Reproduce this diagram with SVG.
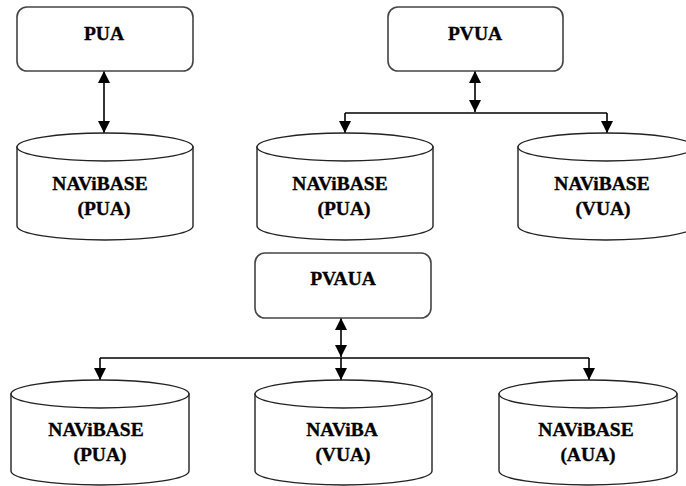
<svg xmlns="http://www.w3.org/2000/svg" width="686" height="486" viewBox="0 0 686 486">
  <defs>
    <marker id="head" viewBox="0 0 12 12" refX="12" refY="6" markerWidth="12" markerHeight="12" markerUnits="userSpaceOnUse" orient="auto-start-reverse">
      <path d="M0,0 L12,6 L0,12 Z" fill="#000"/>
    </marker>
    <style>
      .box { fill: #fff; stroke: #444; stroke-width: 1.6; }
      .cyl { fill: #fff; stroke: #222; stroke-width: 1.4; }
      .lbl { font-family: "Liberation Serif", "Times New Roman", serif; font-weight: bold; font-size: 19.5px; fill: #000; stroke: #000; stroke-width: 0.35; text-anchor: middle; }
      .wire { fill: none; stroke: #000; stroke-width: 1.6; }
    </style>
  </defs>
  <rect width="686" height="486" fill="#fff"/>

  <!-- connectors -->
  <g id="connectors">
    <line class="wire" x1="104" y1="71" x2="104" y2="133" marker-start="url(#head)" marker-end="url(#head)"/>
    <line class="wire" x1="475" y1="71" x2="475" y2="112" marker-start="url(#head)" marker-end="url(#head)"/>
    <path class="wire" d="M345,113 L607,113"/>
    <line class="wire" x1="345" y1="113" x2="345" y2="133" marker-end="url(#head)"/>
    <line class="wire" x1="607" y1="113" x2="607" y2="133" marker-end="url(#head)"/>
    <line class="wire" x1="341" y1="318" x2="341" y2="357" marker-start="url(#head)" marker-end="url(#head)"/>
    <path class="wire" d="M100,358 L589,358"/>
    <line class="wire" x1="100" y1="358" x2="100" y2="380" marker-end="url(#head)"/>
    <line class="wire" x1="341" y1="358" x2="341" y2="380" marker-end="url(#head)"/>
    <line class="wire" x1="589" y1="358" x2="589" y2="380" marker-end="url(#head)"/>
  </g>

  <!-- top row -->
  <g id="pua">
    <rect class="box" x="17" y="7" width="176" height="64" rx="10"/>
    <text class="lbl" x="104" y="40">PUA</text>
  </g>
  <g id="navibase-pua-1">
    <path class="cyl" d="M17,147 L17,226 A88,14 0 0 0 193,226 L193,147 Z"/>
    <ellipse class="cyl" cx="105" cy="147" rx="88" ry="14"/>
    <text class="lbl" x="100" y="190">NAViBASE</text>
    <text class="lbl" x="104" y="215">(PUA)</text>
  </g>

  <g id="pvua">
    <rect class="box" x="388" y="7" width="175" height="64" rx="10"/>
    <text class="lbl" x="475" y="40">PVUA</text>
  </g>
  <g id="navibase-pua-2">
    <path class="cyl" d="M257,147 L257,226 A88,14 0 0 0 433,226 L433,147 Z"/>
    <ellipse class="cyl" cx="345" cy="147" rx="88" ry="14"/>
    <text class="lbl" x="340" y="190">NAViBASE</text>
    <text class="lbl" x="344" y="215">(PUA)</text>
  </g>
  <g id="navibase-vua-1">
    <path class="cyl" d="M518,147 L518,226 A88,14 0 0 0 694,226 L694,147 Z"/>
    <ellipse class="cyl" cx="606" cy="147" rx="88" ry="14"/>
    <text class="lbl" x="602" y="190">NAViBASE</text>
    <text class="lbl" x="603" y="215">(VUA)</text>
  </g>

  <!-- bottom row -->
  <g id="pvaua">
    <rect class="box" x="255" y="253" width="176" height="65" rx="10"/>
    <text class="lbl" x="343" y="285">PVAUA</text>
  </g>
  <g id="navibase-pua-3">
    <path class="cyl" d="M11,394 L11,471 A89,14 0 0 0 189,471 L189,394 Z"/>
    <ellipse class="cyl" cx="100" cy="394" rx="89" ry="14"/>
    <text class="lbl" x="96" y="436">NAViBASE</text>
    <text class="lbl" x="100" y="461">(PUA)</text>
  </g>
  <g id="naviba-vua">
    <path class="cyl" d="M255,394 L255,471 A88.5,14 0 0 0 432,471 L432,394 Z"/>
    <ellipse class="cyl" cx="343.5" cy="394" rx="88.5" ry="14"/>
    <text class="lbl" x="342" y="436">NAViBA</text>
    <text class="lbl" x="343" y="461">(VUA)</text>
  </g>
  <g id="navibase-aua">
    <path class="cyl" d="M499,394 L499,471 A89,14 0 0 0 677,471 L677,394 Z"/>
    <ellipse class="cyl" cx="588" cy="394" rx="89" ry="14"/>
    <text class="lbl" x="586" y="436">NAViBASE</text>
    <text class="lbl" x="588" y="461">(AUA)</text>
  </g>
</svg>
